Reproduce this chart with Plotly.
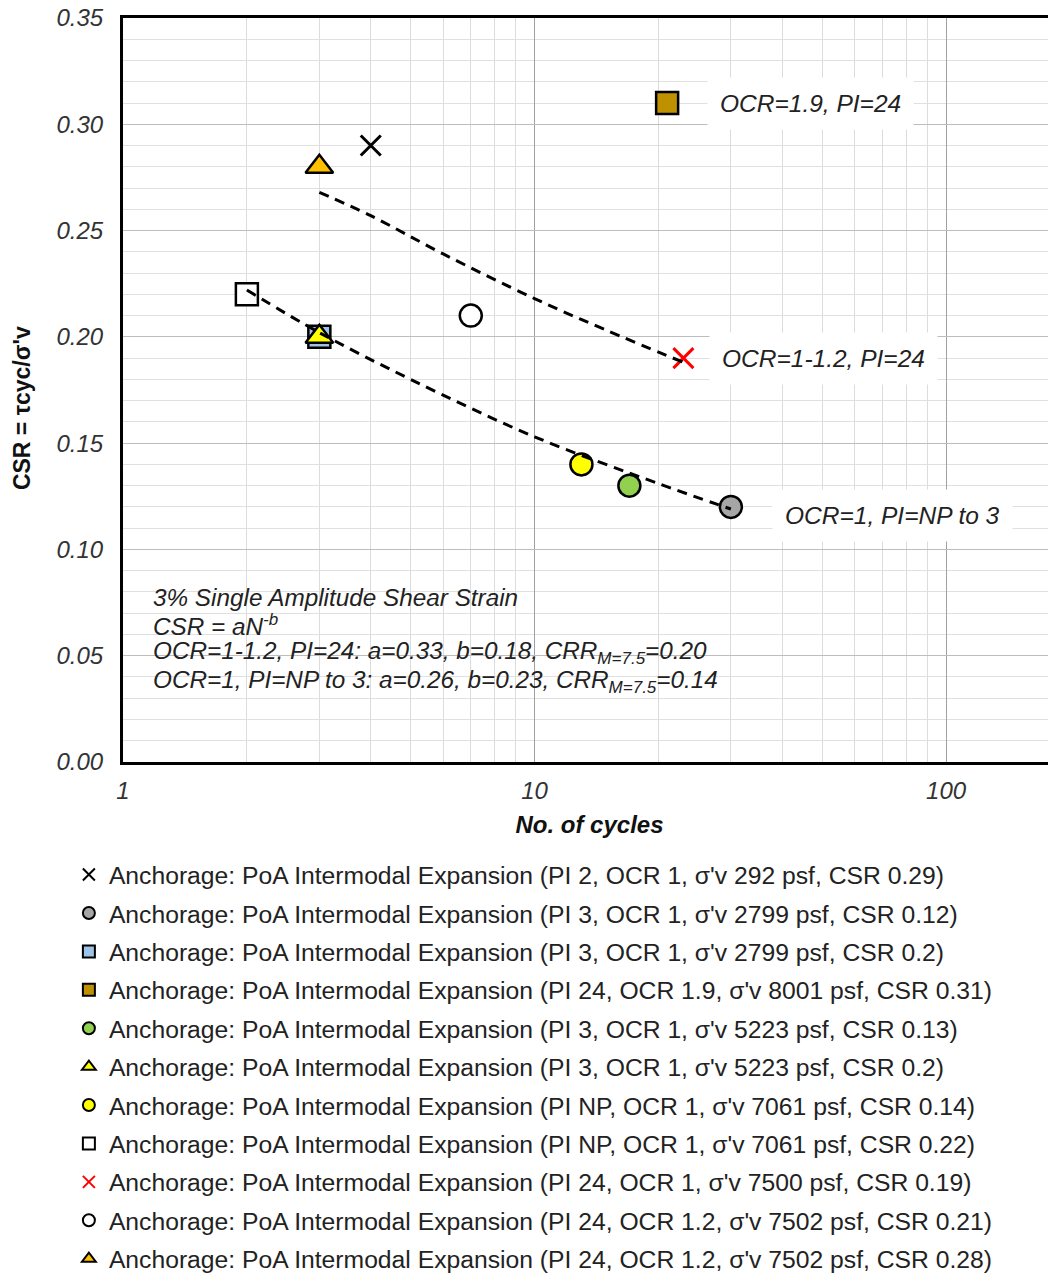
import plotly.graph_objects as go
import math

# ---- data ----
labels = [
    "Anchorage: PoA Intermodal Expansion (PI 2, OCR 1, σ'v 292 psf, CSR 0.29)",
    "Anchorage: PoA Intermodal Expansion (PI 3, OCR 1, σ'v 2799 psf, CSR 0.12)",
    "Anchorage: PoA Intermodal Expansion (PI 3, OCR 1, σ'v 2799 psf, CSR 0.2)",
    "Anchorage: PoA Intermodal Expansion (PI 24, OCR 1.9, σ'v 8001 psf, CSR 0.31)",
    "Anchorage: PoA Intermodal Expansion (PI 3, OCR 1, σ'v 5223 psf, CSR 0.13)",
    "Anchorage: PoA Intermodal Expansion (PI 3, OCR 1, σ'v 5223 psf, CSR 0.2)",
    "Anchorage: PoA Intermodal Expansion (PI NP, OCR 1, σ'v 7061 psf, CSR 0.14)",
    "Anchorage: PoA Intermodal Expansion (PI NP, OCR 1, σ'v 7061 psf, CSR 0.22)",
    "Anchorage: PoA Intermodal Expansion (PI 24, OCR 1, σ'v 7500 psf, CSR 0.19)",
    "Anchorage: PoA Intermodal Expansion (PI 24, OCR 1.2, σ'v 7502 psf, CSR 0.21)",
    "Anchorage: PoA Intermodal Expansion (PI 24, OCR 1.2, σ'v 7502 psf, CSR 0.28)",
]
cycles = [4, 30, 3, 21, 17, 3, 13, 2, 23, 7, 3]
csr = [0.29, 0.12, 0.20, 0.31, 0.13, 0.20, 0.14, 0.22, 0.19, 0.21, 0.28]

# trend lines
trend_upper_n = [3, 4, 6, 10, 15, 23]
trend_upper_csr = [0.268, 0.257, 0.239, 0.218, 0.203, 0.188]
trend_lower_n = [2, 3, 5, 10, 20, 30]
trend_lower_csr = [0.222, 0.202, 0.180, 0.153, 0.131, 0.119]

# axis ticks
y_ticks = [0.00, 0.05, 0.10, 0.15, 0.20, 0.25, 0.30, 0.35]
y_ticktext = ["0.00", "0.05", "0.10", "0.15", "0.20", "0.25", "0.30", "0.35"]
x_ticks = [1, 10, 100]
x_ticktext = ["1", "10", "100"]

# equation box text lines
eq_lines = [
    "3% Single Amplitude Shear Strain",
    "CSR = aN<sup>-b</sup>",
    "OCR=1-1.2, PI=24: a=0.33, b=0.18, CRR<sub>M=7.5</sub>=0.20",
    "OCR=1, PI=NP to 3: a=0.26, b=0.23, CRR<sub>M=7.5</sub>=0.14",
]

# ---- styles ----
symbols = ["x-thin", "circle", "square", "square", "circle", "triangle-up",
           "circle", "square", "x-thin", "circle", "triangle-up"]
fills = ["black", "#A6A6A6", "#9DC3E6", "#BF9000", "#92D050", "#FFFF00",
         "#FFFF00", "white", "#FF0000", "white", "#FFC000"]

fig = go.Figure()
for i in range(len(labels)):
    if symbols[i] == "x-thin":
        marker = dict(symbol="x-thin", size=20, color=fills[i],
                      line=dict(color=fills[i], width=3))
    else:
        marker = dict(symbol=symbols[i], size=22 if symbols[i] != "triangle-up" else 24,
                      color=fills[i], line=dict(color="black", width=2.5))
    fig.add_trace(go.Scatter(x=[cycles[i]], y=[csr[i]], mode="markers",
                             marker=marker, name=labels[i],
                             legendgroup="g%d" % i))

for xs, ys in [(trend_upper_n, trend_upper_csr), (trend_lower_n, trend_lower_csr)]:
    fig.add_trace(go.Scatter(x=xs, y=ys, mode="lines", showlegend=False,
                             line=dict(color="black", width=3, dash="10px,7px",
                                       shape="spline"),
                             hoverinfo="skip"))

FONT = "Liberation Sans, Arial"
tickfont = dict(family=FONT, size=24, color="#333333", style="italic")
xtitlefont = dict(family=FONT, size=24, color="#111111", style="italic", weight="bold")

fig.update_layout(
    width=1048, height=1276,
    margin=dict(l=115, r=0, t=10, b=522),
    paper_bgcolor="white", plot_bgcolor="white",
    showlegend=True,
    legend=dict(x=-0.058, xanchor="left", y=-0.121, yanchor="top",
                font=dict(family=FONT, size=24.7, color="#222222"),
                itemsizing="constant", tracegroupgap=3.3, traceorder="grouped",
                bgcolor="rgba(0,0,0,0)"),
    xaxis=dict(type="log", range=[0, math.log10(185)],
               tickvals=x_ticks, ticktext=x_ticktext,
               showgrid=True, gridcolor="#A0A0A0", gridwidth=1,
               minor=dict(dtick="D1", showgrid=True, gridcolor="#DCDCDC", gridwidth=1),
               showline=True, linecolor="black", linewidth=3, mirror=True,
               ticks="", ticklabelstandoff=5, ticklabeloverflow="allow",
               tickfont=tickfont,
               title=dict(text="No. of cycles", font=xtitlefont, standoff=14),
               zeroline=False, automargin=False),
    yaxis=dict(range=[0, 0.35], tickvals=y_ticks, ticktext=y_ticktext,
               showgrid=True, gridcolor="#BDBDBD", gridwidth=1,
               minor=dict(dtick=0.01, showgrid=True, gridcolor="#E0E0E0", gridwidth=1),
               showline=True, linecolor="black", linewidth=3, mirror=False,
               ticks="", ticklabelstandoff=12, ticklabeloverflow="allow",
               tickfont=tickfont,
               zeroline=False, automargin=False),
)

# y-axis title (placed as annotation to match offset position)
fig.add_annotation(x=-0.108, y=0.476, xref="paper", yref="paper", textangle=-90,
                   text="CSR = τcyc/σ'v", showarrow=False, xanchor="center", yanchor="middle",
                   font=dict(family=FONT, size=23, color="#111111", weight="bold"))

annfont = dict(family=FONT, size=24.5, color="#222222", style="italic")
fig.add_annotation(x=math.log10(26.3), y=0.31, xref="x", yref="y", text="OCR=1.9, PI=24",
                   showarrow=False, xanchor="left", font=annfont, bgcolor="white",
                   borderpad=12)
fig.add_annotation(x=math.log10(26.5), y=0.19, xref="x", yref="y", text="OCR=1-1.2, PI=24",
                   showarrow=False, xanchor="left", font=annfont, bgcolor="white",
                   borderpad=12)
fig.add_annotation(x=math.log10(37.8), y=0.116, xref="x", yref="y", text="OCR=1, PI=NP to 3",
                   showarrow=False, xanchor="left", font=annfont, bgcolor="white",
                   borderpad=12)

# white box behind the equation text
fig.add_shape(type="rect", xref="paper", yref="paper", x0=0.003, x1=0.752,
              y0=0.083, y1=0.245, fillcolor="white", line=dict(width=0), layer="between")
eq_y = [0.0776, 0.0645, 0.0513, 0.0381]
for txt, yy in zip(eq_lines, eq_y):
    fig.add_annotation(x=0.068, y=yy, xref="x", yref="y", xanchor="left", yanchor="middle",
                       align="left", text=txt, showarrow=False,
                       font=dict(family=FONT, size=24.3, color="#222222", style="italic"))

fig.write_html("out.html")
